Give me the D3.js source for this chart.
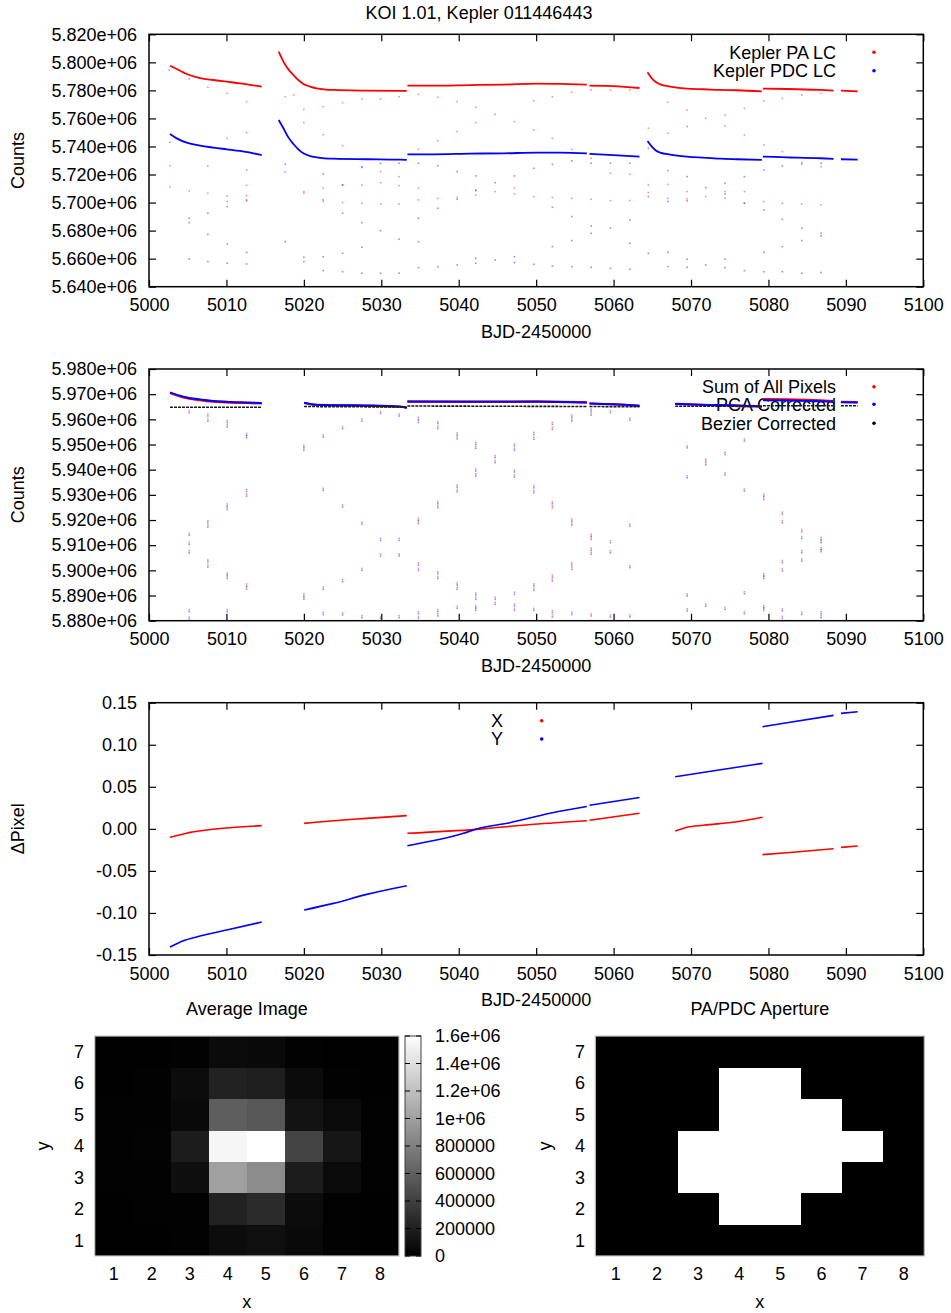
<!DOCTYPE html>
<html><head><meta charset="utf-8">
<script src="https://cdn.jsdelivr.net/npm/d3@7"></script>
<style>body{margin:0;background:#fff} svg{display:block}</style>
</head><body>
<svg id="c" width="951" height="1313"></svg>
<script>
// ---------------- DATA ----------------
const titleText = "KOI 1.01, Kepler 011446443";
const xTicks = [5000,5010,5020,5030,5040,5050,5060,5070,5080,5090,5100];

// Panel 1 (counts in units of 1e6)
const p1Ticks = [5.64,5.66,5.68,5.70,5.72,5.74,5.76,5.78,5.80,5.82];
const paLC = [
  [[5002.71,5.7976],[5003.58,5.7953],[5004.87,5.7917],[5006.59,5.7888],[5008.31,5.7874],[5010.03,5.7862],[5011.76,5.7850],[5013.48,5.7836],[5014.56,5.7827]],
  [[5016.75,5.8076],[5017.36,5.8005],[5018.00,5.7950],[5018.65,5.7910],[5019.29,5.7874],[5019.94,5.7846],[5020.80,5.7827],[5021.66,5.7815],[5023.82,5.7803],[5028.12,5.7798],[5032.43,5.7796],[5033.29,5.7796]],
  [[5033.37,5.7834],[5036.74,5.7834],[5041.47,5.7838],[5045.78,5.7841],[5050.09,5.7848],[5053.10,5.7846],[5056.55,5.7841]],
  [[5056.89,5.7834],[5059.99,5.7831],[5063.35,5.7817]],
  [[5064.38,5.7929],[5064.94,5.7886],[5065.50,5.7858],[5066.02,5.7843],[5067.31,5.7827],[5069.47,5.7812],[5071.62,5.7808],[5073.77,5.7803],[5075.93,5.7801],[5079.15,5.7793]],
  [[5079.28,5.7812],[5082.39,5.7810],[5086.69,5.7803],[5088.41,5.7798]],
  [[5089.36,5.7798],[5091.52,5.7793]]
];
const pdcLC = [
  [[5002.71,5.7489],[5003.58,5.7458],[5004.87,5.7427],[5006.59,5.7406],[5008.31,5.7392],[5010.03,5.7380],[5011.76,5.7368],[5013.48,5.7351],[5014.56,5.7339]],
  [[5016.75,5.7589],[5017.36,5.7530],[5018.00,5.7465],[5018.65,5.7418],[5019.29,5.7380],[5019.94,5.7351],[5020.80,5.7332],[5021.66,5.7323],[5023.82,5.7313],[5028.12,5.7309],[5032.43,5.7306],[5033.29,5.7304]],
  [[5033.37,5.7344],[5036.74,5.7344],[5041.47,5.7349],[5045.78,5.7351],[5050.09,5.7356],[5053.10,5.7356],[5056.55,5.7351]],
  [[5056.89,5.7347],[5059.99,5.7339],[5063.35,5.7328]],
  [[5064.38,5.7439],[5064.94,5.7399],[5065.50,5.7370],[5066.02,5.7356],[5067.31,5.7342],[5069.47,5.7328],[5071.62,5.7320],[5073.77,5.7313],[5075.93,5.7309],[5079.15,5.7304]],
  [[5079.28,5.7328],[5082.39,5.7323],[5086.69,5.7316],[5088.41,5.7311]],
  [[5089.36,5.7309],[5091.52,5.7306]]
];
// scattered (in-transit / outlier) cadences: [time, [values]]
const paOut = [
  [5002.6,[5.7945]],[5002.7,[5.7263,5.7114]],[5005.2,[5.7882,5.7083]],[5007.6,[5.7822,5.7261,5.7066]],
  [5010.1,[5.7779,5.7458,5.7047,5.7007]],[5012.6,[5.7720,5.7499,5.7123,5.7050,5.7012]],[5017.6,[5.7755,5.7218]],
  [5018.7,[5.7767]],[5020.0,[5.7665,5.7570,5.7078,5.7066]],[5022.5,[5.7684,5.7484,5.7102,5.7007]],
  [5025.0,[5.7713,5.7406,5.7125,5.7000]],[5027.5,[5.7739,5.7256,5.7125,5.6995]],[5029.9,[5.7739,5.7221,5.7142,5.6990]],
  [5032.3,[5.7755,5.7185,5.7121,5.6990]],[5034.8,[5.7772,5.7380,5.7102,5.7019]],[5037.3,[5.7751,5.7442,5.7030]],
  [5039.8,[5.7720,5.7506,5.7037]],[5042.2,[5.7679,5.7570,5.7090,5.7054]],[5044.7,[5.7629,5.7078]],
  [5047.2,[5.7577,5.7102,5.7061]],[5049.7,[5.7727,5.7518,5.7043]],[5052.1,[5.7755,5.7458,5.7037]],
  [5054.6,[5.7786,5.7380,5.7030]],[5057.1,[5.7803,5.7316,5.7023]],[5059.6,[5.7803,5.7209,5.7014]],
  [5062.1,[5.7803,5.7202,5.7014]],[5064.5,[5.7530,5.7125,5.7071]],[5067.0,[5.7715,5.7495,5.7130,5.7030]],
  [5069.5,[5.7660,5.7542,5.7078,5.7026]],[5071.9,[5.7601,5.7043]],[5074.4,[5.7625,5.7546,5.7078,5.7030]],
  [5076.9,[5.7672,5.7482,5.7078,5.6995]],[5079.4,[5.7724,5.7411,5.7007]],[5081.8,[5.7743,5.7363,5.6995]],
  [5084.3,[5.7767,5.7287,5.6990]],[5086.8,[5.7779,5.7256,5.6983]]
];
const pdcOut = [
  [5002.7,[5.7430]],[5005.2,[5.6888,5.6857,5.6598]],[5007.6,[5.6924,5.6774,5.6579]],[5010.1,[5.6971,5.6705,5.6567]],
  [5012.6,[5.7232,5.7019,5.6645,5.6562]],[5017.6,[5.7273,5.6721]],[5020.0,[5.6610,5.6579]],
  [5022.5,[5.7204,5.7019,5.6614,5.6515]],[5025.0,[5.7125,5.6924,5.6638,5.6507]],[5027.5,[5.7251,5.6857,5.6681,5.6496]],
  [5029.9,[5.7280,5.6800,5.6496]],[5032.3,[5.7280,5.6738,5.6496]],[5034.8,[5.7280,5.6888,5.6721,5.6536]],
  [5037.3,[5.7263,5.6959,5.6543]],[5039.8,[5.7221,5.7023,5.6555]],[5042.2,[5.7190,5.7085,5.6603,5.6567]],
  [5044.7,[5.7142,5.6591]],[5047.2,[5.7190,5.6614,5.6572]],[5049.7,[5.7244,5.6560]],
  [5052.1,[5.7273,5.6966,5.6686,5.6548]],[5054.6,[5.7297,5.6900,5.6729,5.6543]],[5057.1,[5.7280,5.6833,5.6781,5.6538]],
  [5059.6,[5.7280,5.6817,5.6531]],[5062.1,[5.7280,5.6876,5.6710,5.6524]],[5064.5,[5.7387,5.7043,5.6638]],
  [5067.0,[5.7228,5.7007,5.6645,5.6543]],[5069.5,[5.7185,5.7012,5.6596,5.6538]],[5071.9,[5.7106,5.6555]],
  [5074.4,[5.7137,5.7061,5.6596,5.6536]],[5076.9,[5.7185,5.6995,5.6515]],[5079.4,[5.7232,5.6947,5.6645,5.6507]],
  [5081.8,[5.7261,5.6881,5.6686,5.6507]],[5084.3,[5.7275,5.6817,5.6729,5.6496]],[5086.8,[5.7280,5.6781,5.6762,5.6501]]
];

// Panel 2
const p2Ticks = [5.88,5.89,5.90,5.91,5.92,5.93,5.94,5.95,5.96,5.97,5.98];
const sumAll = [
  [[5002.71,5.9705],[5004.43,5.9687],[5006.59,5.9676],[5008.31,5.9670],[5010.03,5.9667],[5012.62,5.9665],[5014.56,5.9663]],
  [[5020.03,5.9665],[5021.66,5.9657],[5025.00,5.9655],[5028.12,5.9654],[5032.43,5.9650],[5033.29,5.9645]],
  [[5033.37,5.9670],[5041.47,5.9670],[5050.09,5.9671],[5056.55,5.9667]],
  [[5056.89,5.9663],[5060.00,5.9660],[5063.35,5.9654]],
  [[5067.96,5.9661],[5071.62,5.9657],[5075.93,5.9655],[5079.15,5.9651]],
  [[5079.28,5.9680],[5082.39,5.9679],[5086.69,5.9675],[5088.41,5.9672]],
  [[5089.36,5.9669],[5091.52,5.9668]]
];
const pcaCorr = [
  [[5002.71,5.9707],[5004.43,5.9690],[5006.59,5.9679],[5008.31,5.9673],[5010.03,5.9670],[5012.62,5.9667],[5014.56,5.9665]],
  [[5020.03,5.9666],[5021.66,5.9658],[5025.00,5.9656],[5028.12,5.9655],[5032.43,5.9651],[5033.29,5.9646]],
  [[5033.37,5.9671],[5041.47,5.9670],[5050.09,5.9670],[5056.55,5.9667]],
  [[5056.89,5.9663],[5060.00,5.9660],[5063.35,5.9654]],
  [[5067.96,5.9662],[5071.62,5.9658],[5075.93,5.9655],[5079.15,5.9651]],
  [[5079.28,5.9676],[5082.39,5.9675],[5086.69,5.9672],[5088.41,5.9670]],
  [[5089.36,5.9668],[5091.52,5.9667]]
];
const bezCorr = [
  [[5002.71,5.9648],[5008.50,5.9648],[5014.56,5.9648]],
  [[5020.03,5.9651],[5026.00,5.9650],[5033.29,5.9649]],
  [[5033.37,5.9653],[5045.00,5.9652],[5056.55,5.9651]],
  [[5056.89,5.9651],[5063.35,5.9650]],
  [[5067.96,5.9652],[5073.00,5.9652],[5079.15,5.9651]],
  [[5079.28,5.9654],[5088.41,5.9654]],
  [[5089.36,5.9654],[5091.52,5.9654]]
];
const p2Out = [
  [5005.2,[5.9631,5.9143,5.9107,5.9074,5.8840,5.8810]],[5007.6,[5.9617,5.9597,5.9193,5.9176,5.9037,5.9017]],
  [5010.1,[5.9591,5.9574,5.9260,5.9246,5.8986,5.8972,5.8840]],[5012.6,[5.9540,5.9531,5.9317,5.9299,5.8942,5.8929]],
  [5020.0,[5.9494,5.9481,5.8902,5.8889]],[5022.5,[5.9534,5.9322,5.8929,5.8829]],[5025.0,[5.9567,5.9256,5.8959,5.8827]],
  [5027.5,[5.9597,5.9187,5.9004,5.8816]],[5029.9,[5.9627,5.9123,5.9061,5.8813]],[5032.3,[5.9617,5.9123,5.9061,5.8816]],
  [5034.8,[5.9604,5.9591,5.9203,5.9190,5.9025,5.9004,5.8832,5.8813]],[5037.3,[5.9587,5.9568,5.9269,5.9253,5.8991,5.8972,5.8840,5.8823]],
  [5039.8,[5.9542,5.9527,5.9335,5.9317,5.8946,5.8929,5.8853]],[5042.2,[5.9505,5.9489,5.9399,5.9379,5.8906,5.8889,5.8856,5.8845]],
  [5044.7,[5.9452,5.9432,5.8889,5.8869]],[5047.2,[5.9498,5.9481,5.9395,5.9375,5.8909,5.8862,5.8845]],
  [5049.7,[5.9544,5.9525,5.9332,5.9313,5.8942,5.8925,5.8845]],[5052.1,[5.9584,5.9564,5.9269,5.9253,5.8978,5.8962,5.8836,5.8819]],
  [5054.6,[5.9613,5.9597,5.9200,5.9184,5.9025,5.9008,5.8829]],[5057.1,[5.9637,5.9621,5.9140,5.9127,5.9084,5.9068,5.8823]],
  [5059.6,[5.9631,5.9114,5.9074,5.8819]],[5062.1,[5.9601,5.9180,5.9015,5.8819]],
  [5069.5,[5.9491,5.9372,5.8902,5.8843]],[5071.9,[5.9438,5.9423,5.8862]],[5074.4,[5.9465,5.9383,5.8849]],
  [5076.9,[5.9518,5.9319,5.8911,5.8832]],[5079.4,[5.9299,5.9286,5.8982,5.8972,5.8856,5.8845]],
  [5081.8,[5.9227,5.9193,5.9035,5.9001,5.8843,5.8813]],[5084.3,[5.9158,5.9131,5.9074,5.9041,5.8829]],
  [5086.8,[5.9127,5.9114,5.9087,5.9078,5.8832,5.8816]]
];

// Panel 3
const p3Ticks = [-0.15,-0.10,-0.05,0.00,0.05,0.10,0.15];
const dX = [
  [[5002.71,-0.0101],[5004.43,-0.0062],[5005.30,-0.0042],[5007.45,-0.0014],[5010.03,0.0010],[5014.56,0.0038]],
  [[5020.03,0.0065],[5023.82,0.0097],[5028.12,0.0125],[5033.29,0.0157]],
  [[5033.37,-0.0053],[5042.30,-0.0006],[5049.65,0.0054],[5056.55,0.0097]],
  [[5056.89,0.0103],[5063.35,0.0186]],
  [[5067.96,-0.0026],[5069.50,0.0018],[5071.62,0.0042],[5075.93,0.0085],[5079.24,0.0137]],
  [[5079.24,-0.0307],[5082.39,-0.0284],[5088.41,-0.0236]],
  [[5089.36,-0.0220],[5091.52,-0.0204]]
];
const dY = [
  [[5002.71,-0.1405],[5004.43,-0.1330],[5006.59,-0.1275],[5010.03,-0.1203],[5014.56,-0.1108]],
  [[5020.03,-0.0965],[5023.82,-0.0886],[5028.12,-0.0779],[5033.29,-0.0676]],
  [[5033.37,-0.0200],[5040.60,-0.0053],[5042.30,-0.0002],[5046.60,0.0073],[5051.80,0.0185],[5056.55,0.0265]],
  [[5056.89,0.0280],[5063.35,0.0372]],
  [[5067.96,0.0620],[5073.60,0.0700],[5079.24,0.0779]],
  [[5079.24,0.1215],[5082.39,0.1262],[5088.41,0.1349]],
  [[5089.36,0.1373],[5091.52,0.1393]]
];

// Images (rows y=1..7 bottom to top, columns x=1..8)
const imgX = [1,2,3,4,5,6,7,8];
const imgY = [1,2,3,4,5,6,7];
const avgImage = [
  [8000, 9000, 12000, 75000, 94000, 56000, 10000, 8000],
  [9000, 11000, 15000, 213000, 264000, 75000, 12000, 9000],
  [10000, 14000, 88000, 1004000, 878000, 176000, 63000, 11000],
  [11000, 16000, 176000, 1543000, 1598000, 427000, 138000, 12000],
  [10000, 13000, 56000, 590000, 546000, 119000, 63000, 11000],
  [9000, 11000, 75000, 213000, 188000, 69000, 14000, 9000],
  [8000, 9000, 12000, 69000, 56000, 15000, 9000, 8000]
];
const aperture = [
  [0,0,0,0,0,0,0,0],
  [0,0,0,1,1,0,0,0],
  [0,0,1,1,1,1,0,0],
  [0,0,1,1,1,1,1,0],
  [0,0,0,1,1,1,0,0],
  [0,0,0,1,1,0,0,0],
  [0,0,0,0,0,0,0,0]
];
const cbTicks = [0,200000,400000,600000,800000,1000000,1200000,1400000,1600000];
const cbLabels = ["0","200000","400000","600000","800000","1e+06","1.2e+06","1.4e+06","1.6e+06"];

// ---------------- DRAW ----------------
const FONT = '"Liberation Sans", Arial, Helvetica, sans-serif';
const FS = 18;
const svg = d3.select("#c");
const X0 = 149, X1 = 923.3;
const x = d3.scaleLinear().domain([5000,5100]).range([X0, X1]);

function txt(g, tx, ty, s, anchor, rot) {
  const t = g.append("text").attr("x", tx).attr("y", ty).attr("dy","0.35em")
    .attr("text-anchor", anchor || "middle").attr("font-family", FONT).attr("font-size", FS).attr("fill","#000").text(s);
  if (rot) t.attr("transform", `rotate(${rot},${tx},${ty})`);
  return t;
}

function panel(top, bottom, dom, ticks, fmt, ylabel) {
  const y = d3.scaleLinear().domain(dom).range([bottom, top]);
  const g = svg.append("g");
  g.append("g").attr("transform",`translate(0,${bottom})`)
    .call(d3.axisBottom(x).tickValues(xTicks).tickSizeInner(-7).tickSizeOuter(0).tickPadding(12).tickFormat(d3.format("d")));
  g.append("g").attr("transform",`translate(0,${top})`)
    .call(d3.axisTop(x).tickValues(xTicks).tickSizeInner(-7).tickSizeOuter(0).tickFormat(""));
  g.append("g").attr("transform",`translate(${X0},0)`)
    .call(d3.axisLeft(y).tickValues(ticks).tickSizeInner(-7).tickSizeOuter(0).tickPadding(12).tickFormat(fmt));
  g.append("g").attr("transform",`translate(${X1},0)`)
    .call(d3.axisRight(y).tickValues(ticks).tickSizeInner(-7).tickSizeOuter(0).tickFormat(""));
  g.selectAll(".domain").remove();
  g.selectAll(".tick line").attr("stroke","#000").attr("stroke-width",1.2);
  g.selectAll(".tick text").attr("font-size",FS).attr("font-family",FONT).attr("fill","#000");
  g.append("rect").attr("x",X0).attr("y",top).attr("width",X1-X0).attr("height",bottom-top)
    .attr("fill","none").attr("stroke","#000").attr("stroke-width",1.5);
  txt(g, (X0+X1)/2, bottom+45, "BJD-2450000");
  txt(g, 18, (top+bottom)/2, ylabel, "middle", -90);
  return {g, y};
}

function legend(g, items, yPositions, textX, markX) {
  items.forEach((it, i) => {
    txt(g, textX, yPositions[i], it.label, "end");
    g.append("circle").attr("cx", markX).attr("cy", yPositions[i]).attr("r", 1.8).attr("fill", it.color);
  });
}

function lines(g, y, segs, color, w, dash) {
  const ln = d3.line().x(d => x(d[0])).y(d => y(d[1])).curve(d3.curveMonotoneX);
  segs.forEach(s => {
    const p = g.append("path").attr("d", ln(s)).attr("fill","none").attr("stroke",color)
      .attr("stroke-width",w).attr("stroke-linejoin","round");
    if (dash) p.attr("stroke-dasharray", dash);
  });
}

function dots(g, y, groups, color, op, dy) {
  const pts = groups.flatMap(([t, vs]) => vs.map(v => [t, v]));
  g.append("g").selectAll("rect").data(pts).join("rect")
    .attr("x", d => x(d[0]) - 0.8).attr("y", d => y(d[1]) - 0.8 + (dy || 0))
    .attr("width", 1.6).attr("height", 1.6).attr("fill", color).attr("opacity", op);
}

// Title
txt(svg, 479, 13, titleText);

// Panel 1
{
  const fmt = d => d.toFixed(3) + "e+06";
  const {g, y} = panel(34.3, 286.7, [5.64, 5.82], p1Ticks, fmt, "Counts");
  legend(g, [{label:"Kepler PA LC", color:"#ff0000"},{label:"Kepler PDC LC", color:"#0000ff"}], [52.3, 70.7], 836, 874);
  dots(g, y, paOut, "#ff2020", 0.5);
  dots(g, y, pdcOut, "#2020ff", 0.5);
  lines(g, y, paLC, "#ff0000", 1.8);
  lines(g, y, pdcLC, "#0000ff", 1.8);
}

// Panel 2
{
  const fmt = d => d.toFixed(3) + "e+06";
  const {g, y} = panel(369, 620.7, [5.88, 5.98], p2Ticks, fmt, "Counts");
  legend(g, [{label:"Sum of All Pixels", color:"#ff0000"},{label:"PCA Corrected", color:"#0000ff"},{label:"Bezier Corrected", color:"#000000"}],
    [386.7, 404.3, 423.3], 836, 874);
  dots(g, y, p2Out, "#ff0000", 0.45, -1);
  dots(g, y, p2Out, "#0000ff", 0.45, 1);
  lines(g, y, sumAll, "#ff0000", 2.2);
  lines(g, y, pcaCorr, "#0000ff", 2);
  lines(g, y, bezCorr, "#1a1a1a", 1.6, "3,1");
}

// Panel 3
{
  const fmt = d => d.toFixed(2);
  const {g, y} = panel(702.7, 955, [-0.15, 0.15], p3Ticks, fmt, "\u0394Pixel");
  legend(g, [{label:"X", color:"#ff0000"},{label:"Y", color:"#0000ff"}], [720.7, 739], 503, 541.7);
  lines(g, y, dX, "#ff0000", 1.6);
  lines(g, y, dY, "#0000ff", 1.6);
}

// Images
const yh = d3.scaleLinear().domain([0.5, 7.5]).range([1256, 1036]);
const gray = d3.scaleLinear().domain([0, 1600000]).range(["#000000", "#ffffff"]).clamp(true);

function imagePanel(x0, x1, grid, colorFn, title, yLabX, yTickX) {
  const xs = d3.scaleLinear().domain([0.5, 8.5]).range([x0, x1]);
  const g = svg.append("g");
  const cells = [];
  grid.forEach((row, r) => row.forEach((v, c) => cells.push({x: imgX[c], y: imgY[r], v})));
  g.selectAll("rect.cell").data(cells).join("rect").attr("class","cell")
    .attr("x", d => xs(d.x - 0.5)).attr("y", d => yh(d.y + 0.5))
    .attr("width", d => xs(d.x + 0.5) - xs(d.x - 0.5) + 0.3).attr("height", d => yh(d.y - 0.5) - yh(d.y + 0.5) + 0.3)
    .attr("fill", d => colorFn(d.v)).attr("shape-rendering","crispEdges");
  g.append("rect").attr("x", x0).attr("y", 1036).attr("width", x1 - x0).attr("height", 220)
    .attr("fill","none").attr("stroke","#c8c8c8").attr("stroke-width",1.2);
  imgX.forEach(v => txt(g, xs(v), 1274, String(v)));
  imgY.forEach(v => txt(g, yTickX, yh(v), String(v), "end"));
  txt(g, (x0 + x1) / 2, 1302, "x");
  txt(g, yLabX, 1146, "y", "middle", -90);
  txt(g, (x0 + x1) / 2, 1009, title);
  return g;
}

imagePanel(94.7, 399, avgImage, gray, "Average Image", 43, 84);
imagePanel(595.3, 924.3, aperture, v => v ? "#ffffff" : "#000000", "PA/PDC Aperture", 545, 585);

// Colorbar
{
  const cb = d3.scaleLinear().domain([0, 1600000]).range([1256, 1036]);
  const defs = svg.append("defs");
  const lg = defs.append("linearGradient").attr("id","cbg").attr("x1",0).attr("y1",1).attr("x2",0).attr("y2",0);
  lg.append("stop").attr("offset","0%").attr("stop-color", gray(0));
  lg.append("stop").attr("offset","100%").attr("stop-color", gray(1600000));
  const g = svg.append("g");
  g.append("rect").attr("x",405).attr("y",cb(1600000)).attr("width",16).attr("height",cb(0)-cb(1600000))
    .attr("fill","url(#cbg)").attr("stroke","#404040").attr("stroke-width",1);
  cbTicks.forEach((v, i) => {
    g.append("line").attr("x1",405).attr("x2",410).attr("y1",cb(v)).attr("y2",cb(v)).attr("stroke","#000").attr("stroke-width",1);
    g.append("line").attr("x1",416).attr("x2",421).attr("y1",cb(v)).attr("y2",cb(v)).attr("stroke","#000").attr("stroke-width",1);
    txt(g, 435, cb(v), cbLabels[i], "start");
  });
}
</script>
</body></html>
